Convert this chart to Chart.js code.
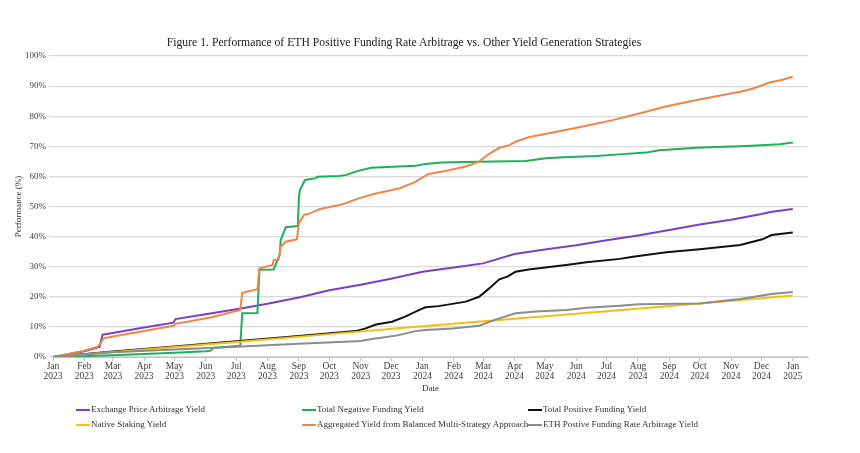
<!DOCTYPE html>
<html>
<head>
<meta charset="utf-8">
<script src="https://cdn.jsdelivr.net/npm/chart.js@4.4.1/dist/chart.umd.min.js"></script>
<style>
  html, body { margin: 0; padding: 0; background: #fff; }
  #wrap { position: relative; width: 860px; height: 453px; font-family: 'Liberation Serif', 'Times New Roman', serif; }
  #grafico { position: absolute; left: 0; top: 0; }
  #titulo { position: absolute; left: 0; width: 808px; top: 36px; text-align: center; font-size: 11.7px; color: #222; }
  .leg { position: absolute; font-size: 9px; color: #333; white-space: nowrap; line-height: 10px; }
  .leg i { display: inline-block; width: 14px; height: 2px; vertical-align: middle; margin-right: 1px; }
</style>
</head>
<body>
<div id="wrap">
  <canvas id="grafico" width="860" height="453"></canvas>
  <div id="titulo">Figure 1. Performance of ETH Positive Funding Rate Arbitrage vs. Other Yield Generation Strategies</div>
  <div id="legenda"></div>
</div>
<script>
// eixo X: inicio de cada mes
const tickDates = ['2023-01-01','2023-02-01','2023-03-01','2023-04-01','2023-05-01','2023-06-01','2023-07-01','2023-08-01','2023-09-01','2023-10-01','2023-11-01','2023-12-01',
  '2024-01-01','2024-02-01','2024-03-01','2024-04-01','2024-05-01','2024-06-01','2024-07-01','2024-08-01','2024-09-01','2024-10-01','2024-11-01','2024-12-01','2025-01-01'];
const tickLabels = ['Jan 2023','Feb 2023','Mar 2023','Apr 2023','May 2023','Jun 2023','Jul 2023','Aug 2023','Sep 2023','Oct 2023','Nov 2023','Dec 2023',
  'Jan 2024','Feb 2024','Mar 2024','Apr 2024','May 2024','Jun 2024','Jul 2024','Aug 2024','Sep 2024','Oct 2024','Nov 2024','Dec 2024','Jan 2025'];

const seriesNames = ['Exchange Price Arbitrage Yield', 'Total Negative Funding Yield', 'Total Positive Funding Yield',
  'Native Staking Yield', 'Aggregated Yield from Balanced Multi-Strategy Approach', 'ETH Postive Funding Rate Arbitrage Yield'];

// Exchange Price Arbitrage (roxo)
const exchangeDates = ['2023-01-01','2023-02-01','2023-02-16','2023-02-19','2023-03-01','2023-04-01','2023-04-30','2023-05-02','2023-06-07','2023-07-07','2023-08-01','2023-09-01','2023-10-01','2023-11-01','2023-12-01',
  '2024-01-01','2024-02-01','2024-03-01','2024-04-01','2024-05-01','2024-06-01','2024-07-01','2024-08-01','2024-09-01','2024-10-01','2024-11-01','2024-12-01','2024-12-10','2025-01-01'];
const exchangeValues = [0, 1.9, 3.3, 7.4, 8.0, 9.8, 11.4, 12.6, 14.5, 16.2, 17.7, 19.8, 22.2, 24.0, 26.0,
  28.3, 29.7, 31.1, 34.2, 35.7, 37.1, 38.8, 40.4, 42.2, 44.0, 45.6, 47.5, 48.2, 49.2];

// Total Negative Funding (verde)
const negFundDates = ['2023-01-01','2023-02-01','2023-03-01','2023-04-01','2023-05-01','2023-06-01','2023-06-06','2023-06-08','2023-07-05','2023-07-06','2023-07-07','2023-07-22','2023-07-24',
  '2023-08-07','2023-08-13','2023-08-14','2023-08-19','2023-08-31','2023-09-01','2023-09-02','2023-09-07','2023-09-18','2023-09-19','2023-10-11','2023-10-18','2023-10-27','2023-11-11','2023-12-25',
  '2024-01-04','2024-01-20','2024-02-26','2024-04-12','2024-05-02','2024-05-19','2024-06-21','2024-07-17','2024-08-09','2024-08-22','2024-09-28','2024-11-16','2024-12-19','2025-01-01'];
const negFundValues = [0, 0.3, 0.6, 1.0, 1.4, 1.9, 2.1, 3.0, 3.7, 9.0, 14.5, 14.6, 29.0,
  29.1, 33.9, 38.9, 43.1, 43.5, 53.3, 55.5, 58.8, 59.4, 59.9, 60.1, 60.5, 61.6, 62.9, 63.5,
  64.1, 64.6, 64.9, 65.1, 66.0, 66.4, 66.8, 67.4, 67.9, 68.7, 69.5, 70.1, 70.7, 71.3];

// Total Positive Funding (preto)
const posFundDates = ['2023-01-01','2023-03-01','2023-05-01','2023-07-01','2023-09-01','2023-10-27','2023-11-06','2023-11-16','2023-12-02','2023-12-15','2023-12-28',
  '2024-01-04','2024-01-17','2024-02-13','2024-02-26','2024-03-07','2024-03-17','2024-03-25','2024-04-02','2024-04-15','2024-05-22','2024-06-11','2024-07-14','2024-07-27','2024-08-29','2024-10-01','2024-11-10','2024-12-02','2024-12-11','2025-01-01'];
const posFundValues = [0, 1.8, 3.5, 5.2, 7.0, 8.6, 9.5, 10.8, 11.7, 13.4, 15.5,
  16.5, 16.9, 18.4, 20.0, 22.8, 25.8, 26.7, 28.3, 29.1, 30.6, 31.5, 32.6, 33.3, 34.8, 35.8, 37.2, 39.1, 40.5, 41.4];

// Native Staking (amarelo)
const stakingDates = ['2023-01-01','2023-04-01','2023-07-01','2023-10-01','2024-01-01','2024-04-01','2024-07-01','2024-10-01','2025-01-01'];
const stakingValues = [0, 2.5, 5.0, 7.6, 10.2, 12.7, 15.2, 17.8, 20.4];

// Aggregated multi-strategy (laranja)
const aggregatedDates = ['2023-01-01','2023-02-01','2023-02-14','2023-02-17','2023-02-20','2023-03-04','2023-04-30','2023-05-02','2023-06-07','2023-07-05','2023-07-07','2023-07-22','2023-07-24',
  '2023-08-06','2023-08-07','2023-08-12','2023-08-14','2023-08-19','2023-08-30','2023-09-01','2023-09-06','2023-09-12','2023-09-21','2023-10-11','2023-10-17','2023-10-30','2023-11-16','2023-12-09','2023-12-25',
  '2024-01-07','2024-01-21','2024-02-13','2024-02-26','2024-03-07','2024-03-17','2024-03-27','2024-04-02','2024-04-15','2024-06-04','2024-07-07','2024-08-09','2024-08-25','2024-09-28','2024-11-10','2024-11-23','2024-12-09','2024-12-22','2025-01-01'];
const aggregatedValues = [0, 2.1, 3.4, 4.5, 6.2, 7.0, 10.4, 11.0, 13.2, 15.6, 21.3, 22.5, 29.5,
  30.6, 32.2, 32.4, 36.6, 38.3, 39.1, 44.4, 47.2, 47.7, 49.1, 50.5, 51.1, 52.7, 54.3, 56.0, 58.2,
  60.8, 61.6, 63.3, 64.9, 67.5, 69.5, 70.4, 71.5, 73.0, 76.3, 78.7, 81.5, 83.0, 85.4, 88.1, 89.2, 91.2, 92.1, 93.1];

// ETH Positive Funding Rate Arbitrage (cinza)
const ethArbDates = ['2023-01-01','2023-02-01','2023-03-01','2023-05-01','2023-07-01','2023-09-01','2023-11-01','2023-11-12','2023-12-06','2023-12-25',
  '2024-01-04','2024-01-31','2024-02-26','2024-03-14','2024-04-02','2024-04-22','2024-05-22','2024-06-11','2024-07-14','2024-08-02','2024-10-01','2024-11-10','2024-12-11','2025-01-01'];
const ethArbValues = [0, 0.9, 1.6, 2.5, 3.4, 4.4, 5.3, 6.0, 7.1, 8.6,
  9.0, 9.5, 10.4, 12.5, 14.5, 15.1, 15.6, 16.4, 17.0, 17.5, 17.8, 19.3, 20.9, 21.6];

const yTicks = [0, 10, 20, 30, 40, 50, 60, 70, 80, 90, 100];

// dias desde 1 jan 2023
const base = Date.UTC(2023, 0, 1);
function dia(s) {
  const [a, m, d] = s.split('-').map(Number);
  return (Date.UTC(a, m - 1, d) - base) / 864e5;
}
function pontos(datas, valores) {
  return datas.map((d, i) => ({ x: dia(d), y: valores[i] }));
}

const cores = ['#7b3fbf', '#1fae5b', '#111111', '#f7bd12', '#ef8548', '#8c8c8c'];
const series = [
  pontos(exchangeDates, exchangeValues),
  pontos(negFundDates, negFundValues),
  pontos(posFundDates, posFundValues),
  pontos(stakingDates, stakingValues),
  pontos(aggregatedDates, aggregatedValues),
  pontos(ethArbDates, ethArbValues)
];

const fonte = "'Liberation Serif', 'Times New Roman', serif";

new Chart(document.getElementById('grafico'), {
  type: 'line',
  data: {
    datasets: series.map((p, i) => ({
      label: seriesNames[i],
      data: p,
      borderColor: cores[i],
      backgroundColor: cores[i],
      borderWidth: 2,
      pointRadius: 0,
      tension: 0,
      order: series.length - i
    }))
  },
  options: {
    responsive: false,
    animation: false,
    layout: { padding: { top: 56, right: 52, bottom: 51, left: 0 } },
    plugins: { legend: { display: false }, tooltip: { enabled: false } },
    scales: {
      x: {
        type: 'linear',
        min: 0,
        max: 746,
        afterBuildTicks: axis => { axis.ticks = tickDates.map(d => ({ value: dia(d) })); },
        afterFit: axis => { axis.height = 45; },
        ticks: {
          autoSkip: false,
          maxRotation: 0,
          padding: 1,
          color: '#404040',
          font: { family: fonte, size: 9.5, lineHeight: 1.05 },
          callback: (v, i) => tickLabels[i].split(' ')
        },
        grid: { drawOnChartArea: false, drawTicks: true, tickLength: 4, color: '#bfbfbf' },
        border: { color: '#bfbfbf' },
        title: { display: true, text: 'Date', color: '#333', font: { family: fonte, size: 9 }, padding: { top: 0, bottom: 8 } }
      },
      y: {
        min: 0,
        max: 100,
        afterBuildTicks: axis => { axis.ticks = yTicks.map(v => ({ value: v })); },
        afterFit: axis => { axis.width = 53; },
        ticks: {
          padding: 3,
          color: '#404040',
          font: { family: fonte, size: 9 },
          callback: v => v + '%'
        },
        grid: { color: '#d9d9d9', lineWidth: 1.2, tickLength: 4 },
        border: { display: false },
        title: { display: true, text: 'Performance (%)', color: '#333', font: { family: fonte, size: 9 }, padding: { top: 13, bottom: 0 } }
      }
    }
  }
});

// legenda em HTML, 3 colunas
const legPos = [[76, 404], [302, 404], [528, 404], [76, 419], [302, 419], [528, 419]];
const legEl = document.getElementById('legenda');
seriesNames.forEach((nome, i) => {
  const div = document.createElement('div');
  div.className = 'leg';
  div.style.left = legPos[i][0] + 'px';
  div.style.top = legPos[i][1] + 'px';
  div.innerHTML = `<i style="background:${cores[i]}"></i>${nome}`;
  legEl.appendChild(div);
});
</script>
</body>
</html>
